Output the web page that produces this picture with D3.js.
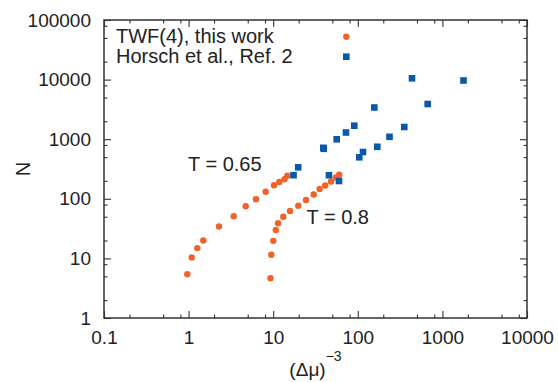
<!DOCTYPE html>
<html lang="en">
<head>
    <meta charset="UTF-8">
    <title>N vs (Δμ)^-3</title>
    <style>
        body, html {
            margin: 0;
            padding: 0;
            background: #fff;
            overflow: hidden;
        }
        svg text {
            font-family: "Liberation Sans", Arial, sans-serif;
            fill: #222;
        }
    </style>
</head>
<body>
    <svg id="chart" width="558" height="382"></svg>

    <script src="https://cdnjs.cloudflare.com/ajax/libs/d3/7.8.5/d3.min.js"></script>
    <script>
        // TWF(4), this work -- T = 0.65
        const twf065X = [0.965, 1.088, 1.267, 1.492, 2.287, 3.413, 4.73, 6.26, 8.15, 10.22, 11.8, 13.6, 14.7];
        const twf065N = [5.41, 10.4, 14.9, 20.0, 34.3, 51.1, 74.8, 98.5, 131.6, 169, 191, 213, 244];

        // TWF(4), this work -- T = 0.8
        const twf08X = [9.29, 9.49, 10.03, 10.73, 11.39, 13.16, 15.8, 19.81, 24.43, 30.1, 35.4, 41.2, 48.2, 54.95, 60.3];
        const twf08N = [4.64, 11.5, 19.7, 30.0, 38.9, 50.1, 62.4, 76.3, 95.5, 118, 146, 167, 195, 228, 254];

        // Horsch et al., Ref. 2
        const horschX = [437, 1776, 156.7, 670, 90.9, 72.5, 56.3, 39.1, 39.6, 354.4, 237, 170, 115.2, 104.2, 19.75, 17.4, 45.6, 60.0];
        const horschN = [10515, 9658, 3403, 3896, 1684, 1295, 996, 717, 690, 1602, 1097, 746, 610, 497, 338, 249, 249, 199];

        const xTicks = [0.1, 1, 10, 100, 1000, 10000];
        const yTicks = [1, 10, 100, 1000, 10000, 100000];
        const legendLabels = ["TWF(4), this work", "Horsch et al., Ref. 2"];

        const orange = "#f26227";
        const blue = "#0a58a8";

        const svg = d3.select("#chart");
        const mLeft = 104, mRight = 527, mTop = 20, mBottom = 318;

        const x = d3.scaleLog().domain([0.1, 10000]).range([mLeft, mRight]);
        const y = d3.scaleLog().domain([1, 100000]).range([mBottom, mTop]);

        // minor ticks at 2, 5, 8 of every decade
        const minorOf = ticks => ticks.slice(0, -1).flatMap(t => [2, 5, 8].map(m => t * m));

        function drawAxes(axisFn, scale, ticks, transform, labelled) {
            const major = axisFn(scale).tickValues(ticks).tickSize(-7).tickSizeOuter(0).tickPadding(13)
                .tickFormat(labelled ? d => String(d) : "");
            const minor = axisFn(scale).tickValues(minorOf(ticks)).tickSize(-3.5).tickSizeOuter(0).tickFormat("");
            [major, minor].forEach(a => {
                const g = svg.append("g").attr("transform", transform).call(a);
                g.select(".domain").remove();
                g.selectAll("line").attr("stroke", "#333").attr("stroke-width", 1.1);
                g.selectAll("text").style("font-size", "19px").attr("fill", "#222");
            });
        }

        drawAxes(d3.axisBottom, x, xTicks, `translate(0,${mBottom})`, true);
        drawAxes(d3.axisTop, x, xTicks, `translate(0,${mTop})`, false);
        drawAxes(d3.axisLeft, y, yTicks, `translate(${mLeft},0)`, true);
        drawAxes(d3.axisRight, y, yTicks, `translate(${mRight},0)`, false);

        svg.append("rect")
            .attr("x", mLeft).attr("y", mTop)
            .attr("width", mRight - mLeft).attr("height", mBottom - mTop)
            .attr("fill", "none").attr("stroke", "#333").attr("stroke-width", 1.5);

        // orange circles
        const circles = twf065X.map((v, i) => [v, twf065N[i]])
            .concat(twf08X.map((v, i) => [v, twf08N[i]]));
        svg.append("g").selectAll("circle")
            .data(circles)
            .enter().append("circle")
            .attr("cx", d => x(d[0]))
            .attr("cy", d => y(d[1]))
            .attr("r", 3.2)
            .attr("fill", orange);

        // blue squares
        const s = 6.6;
        svg.append("g").selectAll("rect")
            .data(horschX.map((v, i) => [v, horschN[i]]))
            .enter().append("rect")
            .attr("x", d => x(d[0]) - s / 2)
            .attr("y", d => y(d[1]) - s / 2)
            .attr("width", s).attr("height", s)
            .attr("fill", blue);

        // legend
        const legend = svg.append("g");
        legend.append("text").attr("x", 116).attr("y", 43).style("font-size", "20px").text(legendLabels[0]);
        legend.append("text").attr("x", 116).attr("y", 63).style("font-size", "20px").text(legendLabels[1]);
        legend.append("circle").attr("cx", 346.3).attr("cy", 36.7).attr("r", 3.2).attr("fill", orange);
        legend.append("rect").attr("x", 346.3 - s / 2).attr("y", 56.7 - s / 2)
            .attr("width", s).attr("height", s).attr("fill", blue);

        // annotations
        svg.append("text").attr("x", 188).attr("y", 170.5).style("font-size", "20px").text("T = 0.65");
        svg.append("text").attr("x", 306.5).attr("y", 223.5).style("font-size", "20px").text("T = 0.8");

        // axis titles
        const xt = svg.append("text")
            .attr("x", (mLeft + mRight) / 2).attr("y", 376)
            .attr("text-anchor", "middle")
            .style("font-size", "19px");
        xt.append("tspan").text("(Δμ)");
        xt.append("tspan").attr("dy", -15).style("font-size", "14px").text("−3");

        svg.append("text")
            .attr("transform", `translate(30,${(mTop + mBottom) / 2}) rotate(-90)`)
            .attr("text-anchor", "middle")
            .style("font-size", "20px")
            .text("N");
    </script>
</body>
</html>
